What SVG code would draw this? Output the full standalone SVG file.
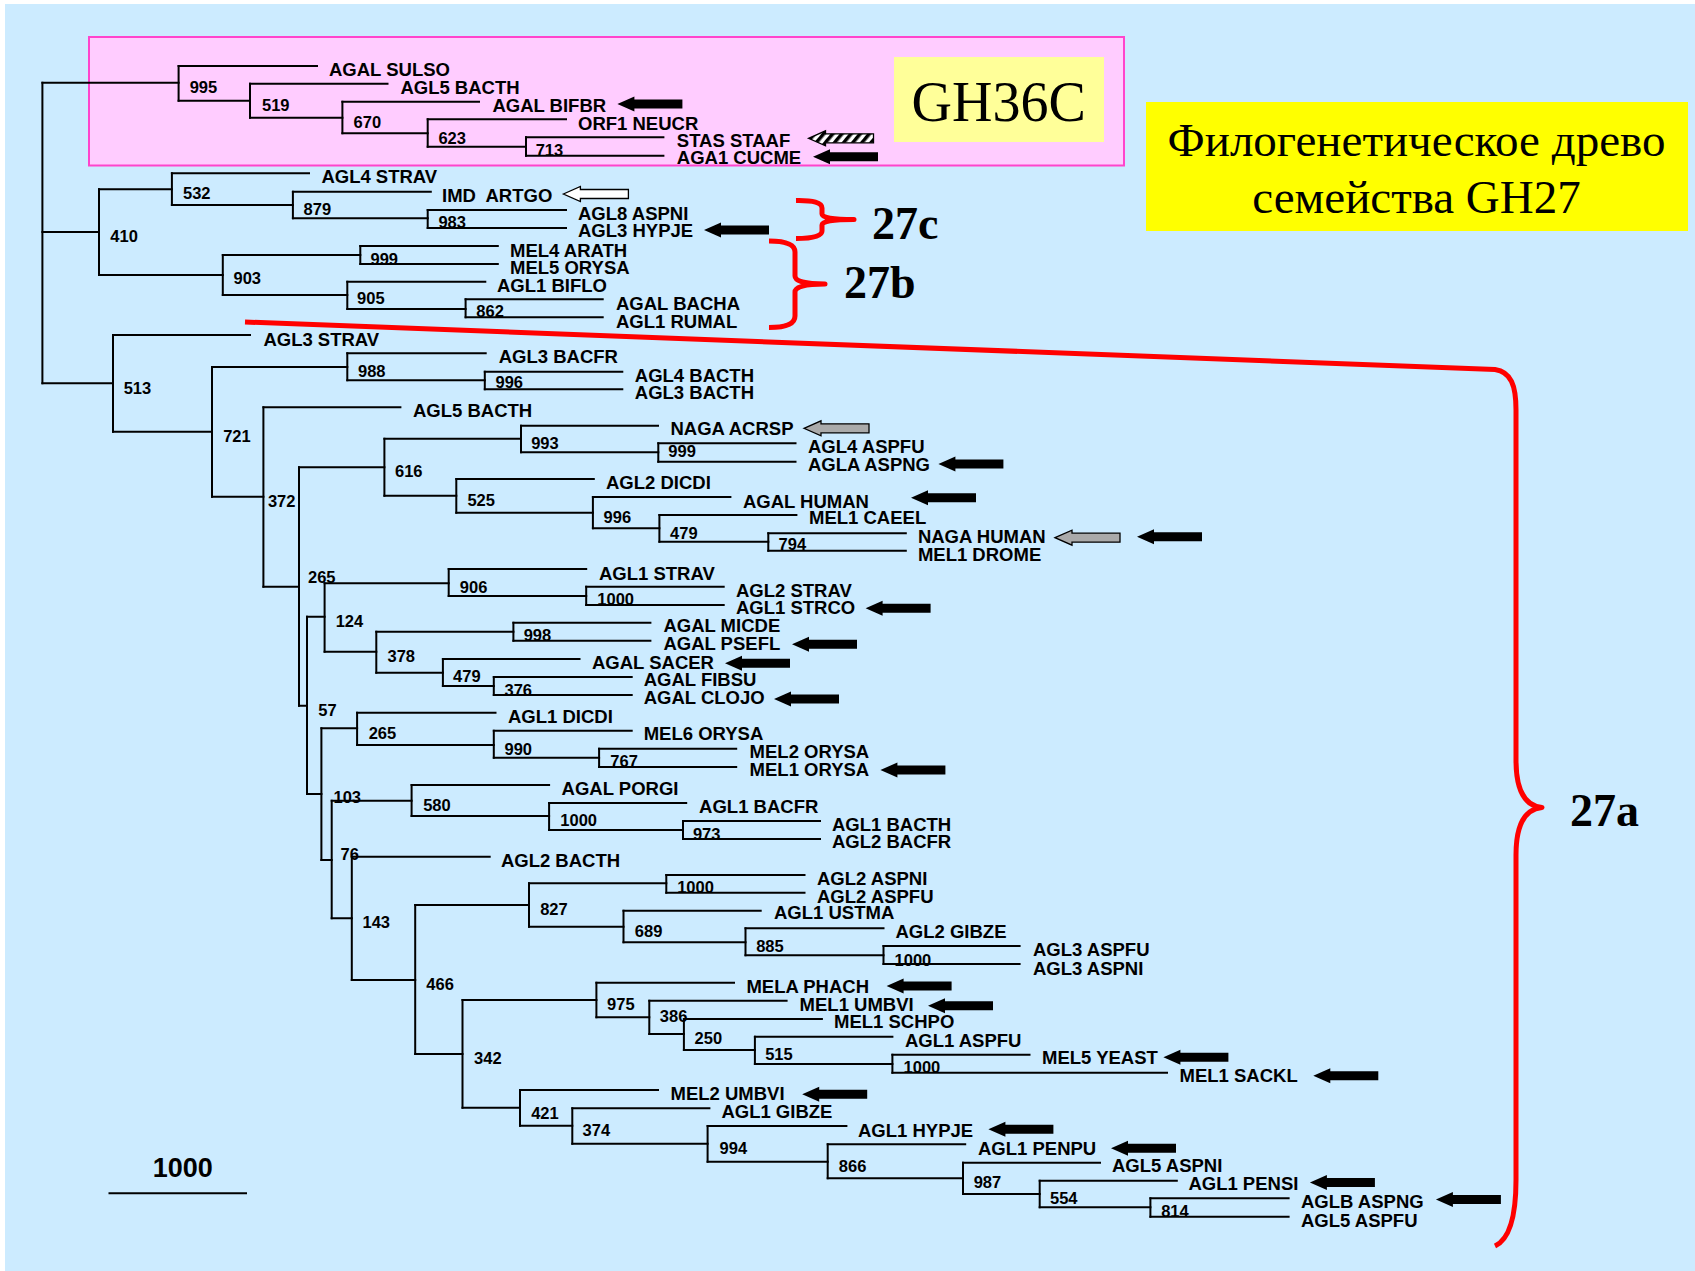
<svg xmlns="http://www.w3.org/2000/svg" width="1695" height="1271" viewBox="0 0 1695 1271">
<style>
.leaf{font-family:"Liberation Sans",Arial,sans-serif;font-weight:bold;font-size:18.5px;fill:#000}
.bs{font-family:"Liberation Sans",Arial,sans-serif;font-weight:bold;font-size:16.5px;fill:#000}
.big{font-family:"Liberation Serif","Times New Roman",serif;fill:#000}
.br{fill:none;stroke:#000;stroke-width:2;stroke-linecap:square}
.red{fill:none;stroke:#FF0000;stroke-width:5;stroke-linejoin:round}
.ab{fill:#000}
.ag{fill:#AAAAAA;stroke:#000;stroke-width:1.3}
.aw{fill:#FFFFFF;stroke:#000;stroke-width:1.3}
.ah{fill:url(#hatch);stroke:#000;stroke-width:1.3}
</style>
<defs>
<path id="arr" d="M0,0 L17,-7.5 L17,-4.5 L65,-4.5 L65,4.5 L17,4.5 L17,7.5 Z"/>
<pattern id="hatch" patternUnits="userSpaceOnUse" width="7" height="7" patternTransform="rotate(40)">
<rect width="7" height="7" fill="#FFFFFF"/>
<rect width="3.5" height="7" fill="#000"/>
</pattern>
</defs>

<!-- backdrop -->
<rect x="5" y="4" width="1690" height="1267" fill="#CCEBFF"/>

<!-- GH36C clade frame and captions -->
<g id="gh36c-frame">
<rect x="89" y="37" width="1035" height="128.5" fill="#FFCCFF" stroke="#FF44CC" stroke-width="2"/>
<rect x="894" y="57" width="210" height="85" fill="#FFFF99"/>
<text class="big" x="998.7" y="120.7" font-size="56" text-anchor="middle">GH36C</text>
</g>
<g id="title">
<rect x="1146" y="102" width="542" height="129" fill="#FFFF00"/>
<text class="big" x="1416.5" y="156" font-size="47" text-anchor="middle">Филогенетическое древо</text>
<text class="big" x="1416.5" y="212.7" font-size="47" text-anchor="middle">семейства GH27</text>
</g>

<!-- tree branches -->
<g id="branches">
<path class="br" d="M42.4,82.7V383.3 M178.6,66V100.7 M250,83.7V117.7 M342.4,101.7V133.3 M427.7,119.3V146.7 M526,137.3V155.7
M99,189.3V275 M171.9,173.3V205 M292.9,191.7V218.3 M427.7,210V228 M222.8,255V295 M360.3,246V264 M347.3,281.7V309 M465.6,299.3V317.3
M113,335V431.7 M212,367V496.7 M347.3,353.3V380.3 M484.8,371.7V389.3 M263.4,407.3V586.7 M299,467.3V705.7 M384.4,438.7V495.7
M521,425.7V452.3 M658.3,443.3V461.7 M456.3,479V512.7 M592.9,497V528.3 M659.4,515V541.7 M768.3,533.3V550.7
M307,616.7V794 M324.6,583.3V651.7 M448.7,569V596 M586.2,586.7V605 M376.3,631.7V672.7 M513.4,622.7V640.7 M442.9,659V686 M493.8,677V695
M321.4,728.3V860 M357.1,712.7V745 M493.8,730.7V757.7 M599.1,748.7V767 M331.7,800.7V918.3 M411.6,785V816 M549.1,803V830 M683,821V839
M351.8,856.7V980 M415.2,905V1054 M529,883.3V926.7 M666.3,875V892.7 M623.5,910.7V942.3 M745.5,928.3V955.3 M883.5,946V964
M462.5,1000V1107.7 M596.4,982.7V1017.3 M649.3,1000.7V1034 M683.9,1019V1050 M754.9,1036.7V1064 M892.4,1054.7V1072.7
M520,1090V1125.7 M572.3,1108.3V1143.7 M707.6,1126V1161.7 M827.7,1144.3V1178.3 M963,1162.7V1194 M1039.7,1180.7V1207.3 M1150.4,1198.3V1216.7"/>
<path class="br" d="M42.4,82.7H178.6 M42.4,232H99 M42.4,383.3H113 M178.6,100.7H250 M250,117.7H342.4 M342.4,133.3H427.7 M427.7,146.7H526
M99,189.3H171.9 M99,275H222.8 M171.9,205H292.9 M292.9,218.3H427.7 M222.8,255H360.3 M222.8,295H347.3 M347.3,309H465.6
M113,431.7H212 M212,367H347.3 M347.3,380.3H484.8 M212,496.7H263.4 M263.4,586.7H299 M299,467.3H384.4 M384.4,438.7H521
M521,452.3H658.3 M384.4,495.7H456.3 M456.3,512.7H592.9 M592.9,528.3H659.4 M659.4,541.7H768.3
M299,705.7H307 M307,616.7H324.6 M324.6,583.3H448.7 M448.7,596H586.2 M324.6,651.7H376.3 M376.3,631.7H513.4 M376.3,672.7H442.9 M442.9,686H493.8
M307,794H321.4 M321.4,728.3H357.1 M357.1,745H493.8 M493.8,757.7H599.1 M321.4,860H331.7 M331.7,800.7H411.6 M411.6,816H549.1 M549.1,830H683
M331.7,918.3H351.8 M351.8,980H415.2 M415.2,905H529 M529,883.3H666.3 M529,926.7H623.5 M623.5,942.3H745.5 M745.5,955.3H883.5
M415.2,1054H462.5 M462.5,1000H596.4 M596.4,1017.3H649.3 M649.3,1034H683.9 M683.9,1050H754.9 M754.9,1064H892.4
M462.5,1107.7H520 M520,1125.7H572.3 M572.3,1143.7H707.6 M707.6,1161.7H827.7 M827.7,1178.3H963 M963,1194H1039.7 M1039.7,1207.3H1150.4"/>
<path class="br" d="M178.6,66H317 M250,83.7H387.5 M342.4,101.7H479 M427.7,119.3H566 M526,137.3H663.4 M526,155.7H663.4
M171.9,173.3H309 M292.9,191.7H430.8 M427.7,210H566 M427.7,228H566 M360.3,246H497.8 M360.3,264H497.8 M347.3,281.7H485.3 M465.6,299.3H602.7 M465.6,317.3H602.7
M113,335H250 M347.3,353.3H485.7 M484.8,371.7H622.3 M484.8,389.3H622.3 M263.4,407.3H400.4 M521,425.7H658 M658.3,443.3H795.5 M658.3,461.7H795.5
M456.3,479H593.8 M592.9,497H730.4 M659.4,515H796.4 M768.3,533.3H905.8 M768.3,550.7H905.8 M448.7,569H586.2 M586.2,586.7H723.7 M586.2,605H723.7
M513.4,622.7H650.4 M513.4,640.7H650.4 M442.9,659H579.5 M493.8,677H631.7 M493.8,695H631.7 M357.1,712.7H495.5 M493.8,730.7H631.7
M599.1,748.7H736.2 M599.1,767H736.2 M411.6,785H549.1 M549.1,803H686.2 M683,821H820 M683,839H820 M351.8,856.7H489.7
M666.3,875H804.5 M666.3,892.7H804.5 M623.5,910.7H760.7 M745.5,928.3H883.5 M883.5,946H1019.6 M883.5,964H1019.6
M596.4,982.7H734 M649.3,1000.7H786.6 M683.9,1019H821.9 M754.9,1036.7H892.4 M892.4,1054.7H1029.5 M892.4,1072.7H1167
M520,1090H658 M572.3,1108.3H709.4 M707.6,1126H846.4 M827.7,1144.3H965.2 M963,1162.7H1100 M1039.7,1180.7H1176.8
M1150.4,1198.3H1288.6 M1150.4,1216.7H1288.6"/>
</g>

<!-- bootstrap support values -->
<g id="support">
<text class="bs" x="189.7" y="92.6">995</text>
<text class="bs" x="262" y="111">519</text>
<text class="bs" x="353.6" y="127.6">670</text>
<text class="bs" x="438.4" y="143.6">623</text>
<text class="bs" x="535.7" y="156.3">713</text>
<text class="bs" x="183" y="198.6">532</text>
<text class="bs" x="303.6" y="215">879</text>
<text class="bs" x="438.4" y="228.3">983</text>
<text class="bs" x="110.3" y="242">410</text>
<text class="bs" x="370.5" y="264.6">999</text>
<text class="bs" x="233.5" y="284.3">903</text>
<text class="bs" x="357.1" y="304.3">905</text>
<text class="bs" x="476.3" y="317.3">862</text>
<text class="bs" x="123.7" y="393.6">513</text>
<text class="bs" x="358" y="376.6">988</text>
<text class="bs" x="495.5" y="387.6">996</text>
<text class="bs" x="223.2" y="442">721</text>
<text class="bs" x="531.2" y="448.6">993</text>
<text class="bs" x="668.3" y="457.3">999</text>
<text class="bs" x="395" y="476.6">616</text>
<text class="bs" x="267.9" y="506.6">372</text>
<text class="bs" x="467.4" y="505.6">525</text>
<text class="bs" x="603.6" y="522.6">996</text>
<text class="bs" x="670.1" y="538.6">479</text>
<text class="bs" x="778.6" y="549.6">794</text>
<text class="bs" x="308" y="583.3">265</text>
<text class="bs" x="459.8" y="592.6">906</text>
<text class="bs" x="597.3" y="605.3">1000</text>
<text class="bs" x="335.7" y="627">124</text>
<text class="bs" x="523.7" y="641.3">998</text>
<text class="bs" x="387.5" y="662">378</text>
<text class="bs" x="453.1" y="681.6">479</text>
<text class="bs" x="504.5" y="695.6">376</text>
<text class="bs" x="318.3" y="716">57</text>
<text class="bs" x="368.7" y="738.6">265</text>
<text class="bs" x="504.5" y="755">990</text>
<text class="bs" x="610.3" y="767.3">767</text>
<text class="bs" x="333.5" y="802.6">103</text>
<text class="bs" x="423.2" y="810.6">580</text>
<text class="bs" x="560.3" y="825.6">1000</text>
<text class="bs" x="692.9" y="839.6">973</text>
<text class="bs" x="340.6" y="860">76</text>
<text class="bs" x="540.2" y="914.6">827</text>
<text class="bs" x="362.5" y="927.6">143</text>
<text class="bs" x="677.2" y="893">1000</text>
<text class="bs" x="634.8" y="936.6">689</text>
<text class="bs" x="756.2" y="951.6">885</text>
<text class="bs" x="894.6" y="965.6">1000</text>
<text class="bs" x="426.3" y="990">466</text>
<text class="bs" x="607.1" y="1010">975</text>
<text class="bs" x="659.8" y="1021.6">386</text>
<text class="bs" x="474.1" y="1063.6">342</text>
<text class="bs" x="694.6" y="1044">250</text>
<text class="bs" x="765.2" y="1060">515</text>
<text class="bs" x="903.6" y="1073">1000</text>
<text class="bs" x="531.2" y="1118.6">421</text>
<text class="bs" x="582.6" y="1135.6">374</text>
<text class="bs" x="719.6" y="1153.6">994</text>
<text class="bs" x="838.8" y="1171.6">866</text>
<text class="bs" x="973.7" y="1188">987</text>
<text class="bs" x="1050" y="1203.6">554</text>
<text class="bs" x="1161.2" y="1216.6">814</text>
</g>

<!-- leaves: sequence names -->
<g id="leaf01"><text class="leaf" x="329" y="76">AGAL SULSO</text></g>
<g id="leaf02"><text class="leaf" x="400.4" y="94.3">AGL5 BACTH</text></g>
<g id="leaf03"><text class="leaf" x="492.4" y="111.7">AGAL BIFBR</text></g>
<g id="leaf04"><text class="leaf" x="578" y="130">ORF1 NEUCR</text></g>
<g id="leaf05"><text class="leaf" x="676.8" y="146.7">STAS STAAF</text></g>
<g id="leaf06"><text class="leaf" x="676.8" y="164">AGA1 CUCME</text></g>
<g id="leaf07"><text class="leaf" x="321.4" y="183.3">AGL4 STRAV</text></g>
<g id="leaf08"><text class="leaf" x="442" y="201.7" xml:space="preserve">IMD  ARTGO</text></g>
<g id="leaf09"><text class="leaf" x="578" y="220">AGL8 ASPNI</text></g>
<g id="leaf10"><text class="leaf" x="578" y="237.3">AGL3 HYPJE</text></g>
<g id="leaf11"><text class="leaf" x="510" y="256.7">MEL4 ARATH</text></g>
<g id="leaf12"><text class="leaf" x="510" y="274">MEL5 ORYSA</text></g>
<g id="leaf13"><text class="leaf" x="497" y="292.3">AGL1 BIFLO</text></g>
<g id="leaf14"><text class="leaf" x="616" y="310">AGAL BACHA</text></g>
<g id="leaf15"><text class="leaf" x="616" y="328.3">AGL1 RUMAL</text></g>
<g id="leaf16"><text class="leaf" x="263.4" y="345.7">AGL3 STRAV</text></g>
<g id="leaf17"><text class="leaf" x="498.7" y="363.3">AGL3 BACFR</text></g>
<g id="leaf18"><text class="leaf" x="634.8" y="381.7">AGL4 BACTH</text></g>
<g id="leaf19"><text class="leaf" x="634.8" y="399.3">AGL3 BACTH</text></g>
<g id="leaf20"><text class="leaf" x="413" y="417.3">AGL5 BACTH</text></g>
<g id="leaf21"><text class="leaf" x="670.5" y="435">NAGA ACRSP</text></g>
<g id="leaf22"><text class="leaf" x="808" y="453.3">AGL4 ASPFU</text></g>
<g id="leaf23"><text class="leaf" x="808" y="471">AGLA ASPNG</text></g>
<g id="leaf24"><text class="leaf" x="606" y="489">AGL2 DICDI</text></g>
<g id="leaf25"><text class="leaf" x="742.9" y="507.7">AGAL HUMAN</text></g>
<g id="leaf26"><text class="leaf" x="809" y="524.3">MEL1 CAEEL</text></g>
<g id="leaf27"><text class="leaf" x="917.9" y="542.7">NAGA HUMAN</text></g>
<g id="leaf28"><text class="leaf" x="917.9" y="560.7">MEL1 DROME</text></g>
<g id="leaf29"><text class="leaf" x="599" y="580">AGL1 STRAV</text></g>
<g id="leaf30"><text class="leaf" x="736" y="596.7">AGL2 STRAV</text></g>
<g id="leaf31"><text class="leaf" x="736" y="614.3">AGL1 STRCO</text></g>
<g id="leaf32"><text class="leaf" x="663.4" y="632.3">AGAL MICDE</text></g>
<g id="leaf33"><text class="leaf" x="663.4" y="650">AGAL PSEFL</text></g>
<g id="leaf34"><text class="leaf" x="592" y="669.3">AGAL SACER</text></g>
<g id="leaf35"><text class="leaf" x="643.7" y="686.3">AGAL FIBSU</text></g>
<g id="leaf36"><text class="leaf" x="643.7" y="704">AGAL CLOJO</text></g>
<g id="leaf37"><text class="leaf" x="508" y="722.7">AGL1 DICDI</text></g>
<g id="leaf38"><text class="leaf" x="643.7" y="740">MEL6 ORYSA</text></g>
<g id="leaf39"><text class="leaf" x="749.6" y="758.3">MEL2 ORYSA</text></g>
<g id="leaf40"><text class="leaf" x="749.6" y="776">MEL1 ORYSA</text></g>
<g id="leaf41"><text class="leaf" x="561.6" y="795">AGAL PORGI</text></g>
<g id="leaf42"><text class="leaf" x="699.1" y="812.7">AGL1 BACFR</text></g>
<g id="leaf43"><text class="leaf" x="832" y="830.7">AGL1 BACTH</text></g>
<g id="leaf44"><text class="leaf" x="832" y="848.3">AGL2 BACFR</text></g>
<g id="leaf45"><text class="leaf" x="500.9" y="866.7">AGL2 BACTH</text></g>
<g id="leaf46"><text class="leaf" x="817" y="885">AGL2 ASPNI</text></g>
<g id="leaf47"><text class="leaf" x="817" y="902.7">AGL2 ASPFU</text></g>
<g id="leaf48"><text class="leaf" x="774" y="919.3">AGL1 USTMA</text></g>
<g id="leaf49"><text class="leaf" x="895.5" y="938.3">AGL2 GIBZE</text></g>
<g id="leaf50"><text class="leaf" x="1033" y="956">AGL3 ASPFU</text></g>
<g id="leaf51"><text class="leaf" x="1033" y="975">AGL3 ASPNI</text></g>
<g id="leaf52"><text class="leaf" x="746.4" y="992.7">MELA PHACH</text></g>
<g id="leaf53"><text class="leaf" x="799.6" y="1010.7">MEL1 UMBVI</text></g>
<g id="leaf54"><text class="leaf" x="834" y="1028.3">MEL1 SCHPO</text></g>
<g id="leaf55"><text class="leaf" x="904.9" y="1046.7">AGL1 ASPFU</text></g>
<g id="leaf56"><text class="leaf" x="1042" y="1064.3">MEL5 YEAST</text></g>
<g id="leaf57"><text class="leaf" x="1179.5" y="1082.3">MEL1 SACKL</text></g>
<g id="leaf58"><text class="leaf" x="670.5" y="1100">MEL2 UMBVI</text></g>
<g id="leaf59"><text class="leaf" x="721.4" y="1118.3">AGL1 GIBZE</text></g>
<g id="leaf60"><text class="leaf" x="858" y="1136.7">AGL1 HYPJE</text></g>
<g id="leaf61"><text class="leaf" x="978" y="1155">AGL1 PENPU</text></g>
<g id="leaf62"><text class="leaf" x="1112" y="1172.3">AGL5 ASPNI</text></g>
<g id="leaf63"><text class="leaf" x="1188.4" y="1190">AGL1 PENSI</text></g>
<g id="leaf64"><text class="leaf" x="1301" y="1208">AGLB ASPNG</text></g>
<g id="leaf65"><text class="leaf" x="1301" y="1227.3">AGL5 ASPFU</text></g>

<!-- pointer arrows next to characterised enzymes -->
<g id="pointers">
<use href="#arr" class="ab" transform="translate(617.4,104)"/>
<use href="#arr" class="ah" transform="translate(808.5,138.3)"/>
<use href="#arr" class="ab" transform="translate(813,156.7)"/>
<use href="#arr" class="aw" transform="translate(563.4,194)"/>
<use href="#arr" class="ab" transform="translate(704,230)"/>
<use href="#arr" class="ag" transform="translate(804,428.3)"/>
<use href="#arr" class="ab" transform="translate(938.4,464)"/>
<use href="#arr" class="ab" transform="translate(911,497.7)"/>
<use href="#arr" class="ag" transform="translate(1055,537.7)"/>
<use href="#arr" class="ab" transform="translate(1137,536.7)"/>
<use href="#arr" class="ab" transform="translate(865.6,608.3)"/>
<use href="#arr" class="ab" transform="translate(792,644.3)"/>
<use href="#arr" class="ab" transform="translate(725,663.3)"/>
<use href="#arr" class="ab" transform="translate(774,699)"/>
<use href="#arr" class="ab" transform="translate(880.4,770)"/>
<use href="#arr" class="ab" transform="translate(886.6,986)"/>
<use href="#arr" class="ab" transform="translate(928,1005.7)"/>
<use href="#arr" class="ab" transform="translate(1163.4,1057.3)"/>
<use href="#arr" class="ab" transform="translate(1313.3,1075.8)"/>
<use href="#arr" class="ab" transform="translate(802.2,1094.3)"/>
<use href="#arr" class="ab" transform="translate(988.4,1129.3)"/>
<use href="#arr" class="ab" transform="translate(1111,1148.3)"/>
<use href="#arr" class="ab" transform="translate(1309.9,1182.5)"/>
<use href="#arr" class="ab" transform="translate(1435.9,1199.6)"/>
</g>

<!-- subfamily brackets -->
<g id="sub27c">
<path class="red" d="M796,200.5 Q822,200 822,208 L822,214 Q822,219.5 854,219.5 Q822,219.5 822,225 L822,231 Q822,238.5 796,238.5"/>
<text class="big" x="872" y="239.3" font-size="46" font-weight="bold">27c</text>
</g>
<g id="sub27b">
<path class="red" d="M769,241 Q795,241 795,252 L795,276 Q795,284 825,284 Q795,284 795,292 L795,316 Q795,327.5 769,327.5"/>
<text class="big" x="844" y="298.3" font-size="46" font-weight="bold">27b</text>
</g>
<g id="sub27a">
<path class="red" d="M245,322 L1495,369.5 C1511,372 1516,385 1516,410 L1516,760 C1516,790 1525,806 1542,807.5 C1525,809 1516,825 1516,855 L1516,1180 C1516,1220 1508,1240 1495,1246"/>
<text class="big" x="1570" y="826" font-size="46" font-weight="bold">27a</text>
</g>

<!-- scale bar -->
<g id="scale">
<line x1="108.5" y1="1193.3" x2="247" y2="1193.3" stroke="#000" stroke-width="2"/>
<text class="leaf" x="152.7" y="1176.7" style="font-size:27px">1000</text>
</g>
</svg>
